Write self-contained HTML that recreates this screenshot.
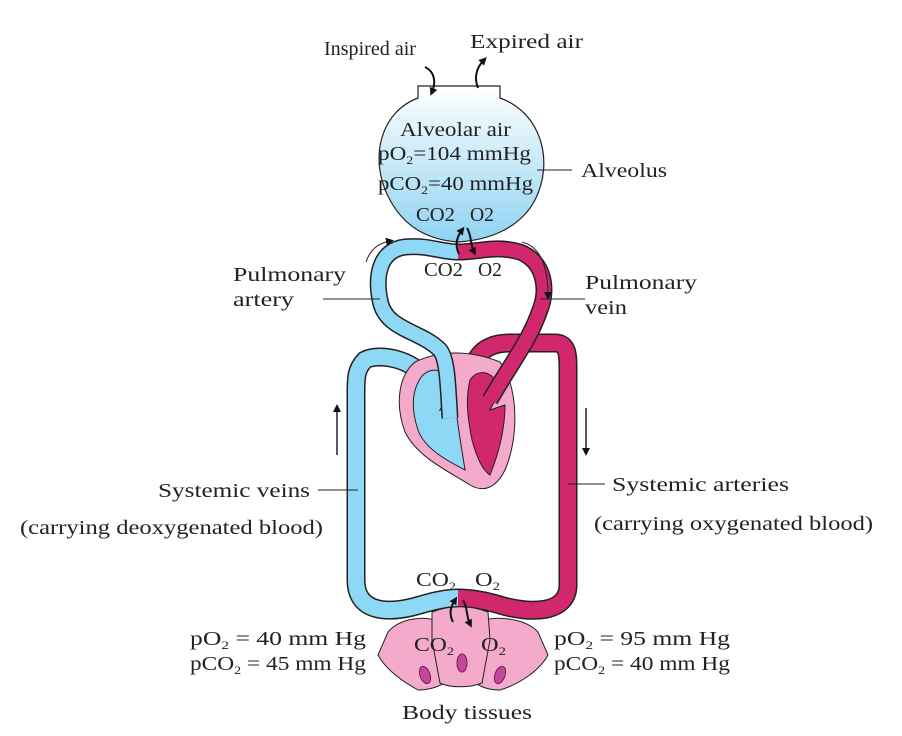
<!DOCTYPE html>
<html><head><style>
html,body{margin:0;padding:0;background:#fff;}
svg text{font-family:"Liberation Serif",serif;fill:#222;}
</style></head><body>
<svg width="902" height="731" viewBox="0 0 902 731" xmlns="http://www.w3.org/2000/svg">
<defs>
<linearGradient id="alv" x1="0" y1="0" x2="0" y2="1">
<stop offset="0" stop-color="#ffffff"/><stop offset="1" stop-color="#8fd3f2"/>
</linearGradient>
<marker id="ah" markerWidth="8" markerHeight="8" refX="4" refY="4" orient="auto" markerUnits="userSpaceOnUse">
<path d="M0,0 L8,4 L0,8 z" fill="#111"/></marker>
</defs>

<!-- alveolus -->
<path d="M418,86 L418,98 C380,112 368,160 390,200 C405,228 430,240 458,242 C490,240 520,228 535,200 C555,160 540,112 500,98 L500,86 Z" fill="url(#alv)" stroke="#222" stroke-width="1.2"/>
<line x1="418" y1="86" x2="500" y2="86" stroke="#222" stroke-width="1"/>

<!-- systemic vessels -->
<g fill="none" stroke-linecap="butt">
<path d="M428,385 C420,360 380,352 365,360 C355,370 356,380 356,400 L356,580 C356,614 390,614 420,605 C440,599 450,598 458,598" stroke="#222" stroke-width="19"/>
<path d="M428,385 C420,360 380,352 365,360 C355,370 356,380 356,400 L356,580 C356,614 390,614 420,605 C440,599 450,598 458,598" stroke="#8ed8f5" stroke-width="16"/>
<path d="M470,392 C470,360 480,343 510,343 L555,343 C568,343 568,355 568,370 L568,585 C568,614 530,614 500,605 C480,599 466,598 458,598" stroke="#222" stroke-width="19"/>
<path d="M470,392 C470,360 480,343 510,343 L555,343 C568,343 568,355 568,370 L568,585 C568,614 530,614 500,605 C480,599 466,598 458,598" stroke="#d1276c" stroke-width="16"/>
</g>

<!-- heart -->
<path d="M415,362 C440,350 470,350 500,362 C520,390 518,440 505,470 C495,490 482,492 470,485 C450,472 418,458 405,432 C395,405 398,376 415,362 Z" fill="#f4aacb" stroke="#222" stroke-width="1"/>
<path d="M422,376 C432,366 445,370 448,380 C452,395 445,400 440,410 L455,400 C458,430 462,450 465,470 C450,462 425,450 418,430 C412,412 410,392 422,376 Z" fill="#8ed8f5" stroke="#222" stroke-width="1"/>
<path d="M470,380 C478,368 492,372 496,382 C500,395 495,400 490,410 L505,405 C505,430 498,455 490,475 C482,470 476,455 472,440 C468,420 465,400 470,380 Z" fill="#d1276c" stroke="#222" stroke-width="1"/>

<!-- pulmonary vessels -->
<g fill="none">
<path d="M450,418 C448,390 448,360 440,350 C420,330 385,330 380,300 C375,275 380,250 405,247 C430,245 440,252 458,252" stroke="#222" stroke-width="17"/>
<path d="M450,418 C448,390 448,360 440,350 C420,330 385,330 380,300 C375,275 380,250 405,247 C430,245 440,252 458,252" stroke="#8ed8f5" stroke-width="14"/>
<path d="M458,252 C480,252 495,245 520,252 C545,262 548,290 540,310 C530,340 510,365 490,400" stroke="#222" stroke-width="17"/>
<path d="M458,252 C480,252 495,245 520,252 C545,262 548,290 540,310 C530,340 510,365 490,400" stroke="#d1276c" stroke-width="14"/>
</g>

<!-- tissue cells -->
<g stroke="#222" stroke-width="1" fill="#f4aacb">
<path d="M388,632 C400,618 425,615 440,622 L448,680 C440,688 425,690 418,690 C400,680 385,668 378,655 Z"/>
<path d="M478,622 C495,615 525,618 538,632 L548,655 C540,670 520,684 500,690 C490,690 480,688 472,680 Z"/>
<path d="M432,612 C450,605 470,605 488,612 L490,640 L482,683 C470,688 450,688 440,683 L432,640 Z"/>
</g>
<g fill="#c6479a" stroke="#7a1a55" stroke-width="1">
<ellipse cx="425" cy="675" rx="5" ry="9" transform="rotate(-20 425 675)"/>
<ellipse cx="462" cy="663" rx="5" ry="9"/>
<ellipse cx="500" cy="675" rx="5" ry="9" transform="rotate(20 500 675)"/>
</g>

<!-- gas arrows -->
<g fill="none" stroke="#111" stroke-width="2">
<path d="M425,67 C435,72 436,82 432,92" marker-end="url(#ah)"/>
<path d="M478,88 C474,78 476,68 484,60" marker-end="url(#ah)"/>
<path d="M459,254 C455,246 456,238 462,230" marker-end="url(#ah)"/>
<path d="M467,228 C472,236 470,244 474,252" marker-end="url(#ah)"/>
<path d="M453,622 C449,614 450,608 455,600" marker-end="url(#ah)"/>
<path d="M463,600 C468,608 466,616 470,624" marker-end="url(#ah)"/>
</g>
<g fill="none" stroke="#222" stroke-width="1">
<path d="M366,262 C370,250 378,243 390,241" marker-end="url(#ah)"/>
<path d="M522,242 C538,246 548,262 548,296" marker-end="url(#ah)"/>
<line x1="337" y1="455" x2="337" y2="408" stroke-width="1.5" marker-end="url(#ah)"/>
<line x1="586" y1="408" x2="586" y2="452" stroke-width="1.5" marker-end="url(#ah)"/>
<line x1="537" y1="170" x2="572" y2="170"/>
<line x1="323" y1="299" x2="380" y2="299"/>
<line x1="540" y1="299" x2="585" y2="299"/>
<line x1="318" y1="490" x2="358" y2="490"/>
<line x1="568" y1="484" x2="605" y2="484"/>
</g>

<g font-size="20">
<text x="324" y="55" textLength="92" lengthAdjust="spacingAndGlyphs">Inspired air</text>
<text x="470" y="48" textLength="113" lengthAdjust="spacingAndGlyphs">Expired air</text>
<text x="400" y="136" textLength="111" lengthAdjust="spacingAndGlyphs">Alveolar air</text>
<text x="378" y="160" textLength="153" lengthAdjust="spacingAndGlyphs">pO<tspan font-size="12" dy="4">2</tspan><tspan dy="-4">=104 mmHg</tspan></text>
<text x="378" y="190" textLength="155" lengthAdjust="spacingAndGlyphs">pCO<tspan font-size="12" dy="4">2</tspan><tspan dy="-4">=40 mmHg</tspan></text>
<text x="416" y="221" textLength="39" lengthAdjust="spacingAndGlyphs">CO2</text>
<text x="470" y="221" textLength="24" lengthAdjust="spacingAndGlyphs">O2</text>
<text x="581" y="177" textLength="86" lengthAdjust="spacingAndGlyphs">Alveolus</text>
<text x="424" y="276" textLength="39" lengthAdjust="spacingAndGlyphs">CO2</text>
<text x="478" y="276" textLength="24" lengthAdjust="spacingAndGlyphs">O2</text>
<text x="233" y="281" textLength="113" lengthAdjust="spacingAndGlyphs">Pulmonary</text>
<text x="233" y="306" textLength="61" lengthAdjust="spacingAndGlyphs">artery</text>
<text x="585" y="289" textLength="112" lengthAdjust="spacingAndGlyphs">Pulmonary</text>
<text x="585" y="314" textLength="42" lengthAdjust="spacingAndGlyphs">vein</text>
<text x="158" y="497" textLength="152" lengthAdjust="spacingAndGlyphs">Systemic veins</text>
<text x="20" y="534" textLength="303" lengthAdjust="spacingAndGlyphs">(carrying deoxygenated blood)</text>
<text x="612" y="491" textLength="177" lengthAdjust="spacingAndGlyphs">Systemic arteries</text>
<text x="594" y="530" textLength="279" lengthAdjust="spacingAndGlyphs">(carrying oxygenated blood)</text>
<text x="416" y="586" textLength="40" lengthAdjust="spacingAndGlyphs">CO<tspan font-size="12" dy="4">2</tspan></text>
<text x="475" y="586" textLength="25" lengthAdjust="spacingAndGlyphs">O<tspan font-size="12" dy="4">2</tspan></text>
<text x="414" y="651" textLength="40" lengthAdjust="spacingAndGlyphs">CO<tspan font-size="12" dy="4">2</tspan></text>
<text x="481" y="651" textLength="25" lengthAdjust="spacingAndGlyphs">O<tspan font-size="12" dy="4">2</tspan></text>
<text x="190" y="645" textLength="176" lengthAdjust="spacingAndGlyphs">pO<tspan font-size="12" dy="4">2</tspan><tspan dy="-4">    = 40 mm Hg</tspan></text>
<text x="190" y="670" textLength="176" lengthAdjust="spacingAndGlyphs">pCO<tspan font-size="12" dy="4">2</tspan><tspan dy="-4"> = 45 mm Hg</tspan></text>
<text x="554" y="645" textLength="176" lengthAdjust="spacingAndGlyphs">pO<tspan font-size="12" dy="4">2</tspan><tspan dy="-4">    = 95 mm Hg</tspan></text>
<text x="554" y="670" textLength="176" lengthAdjust="spacingAndGlyphs">pCO<tspan font-size="12" dy="4">2</tspan><tspan dy="-4"> = 40 mm Hg</tspan></text>
<text x="402" y="719" textLength="130" lengthAdjust="spacingAndGlyphs">Body tissues</text>
</g>
</svg>
</body></html>
